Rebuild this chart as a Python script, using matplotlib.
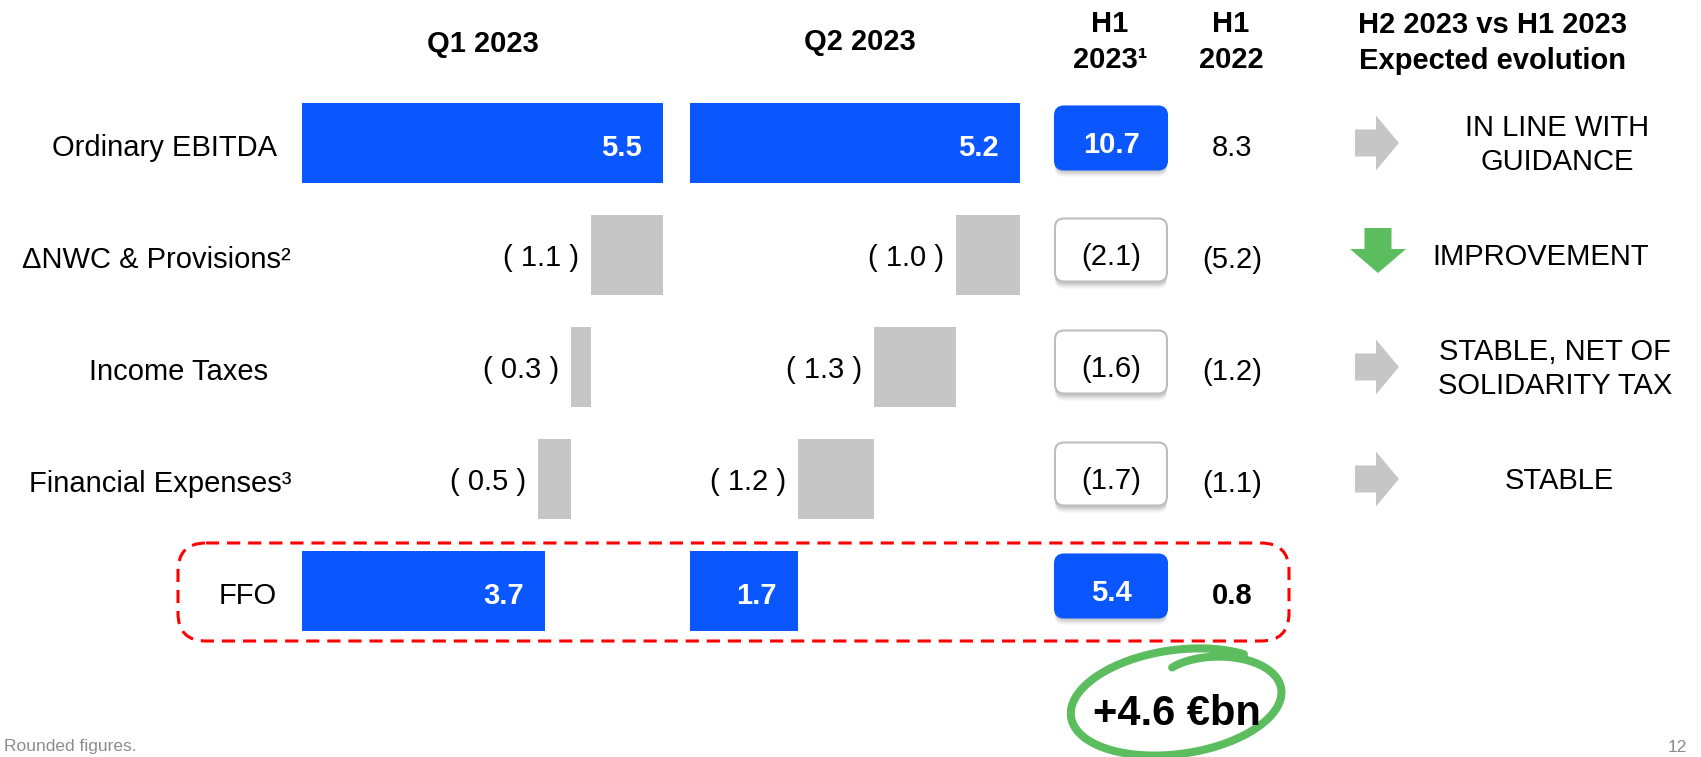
import matplotlib
matplotlib.use("Agg")
import matplotlib.pyplot as plt
from matplotlib.patches import FancyBboxPatch
import numpy as np

plt.rcParams['font.family'] = ['Liberation Sans', 'DejaVu Sans']

# data (€bn)
rows = ["Ordinary EBITDA", "\u0394NWC & Provisions\u00b2", "Income Taxes",
        "Financial Expenses\u00b3", "FFO"]
q1_values = [5.5, -1.1, -0.3, -0.5, 3.7]
q2_values = [5.2, -1.0, -1.3, -1.2, 1.7]
h1_2023 = [10.7, -2.1, -1.6, -1.7, 5.4]
h1_2022 = [8.3, -5.2, -1.2, -1.1, 0.8]
evolution = ["IN LINE WITH\nGUIDANCE", "IMPROVEMENT",
             "STABLE, NET OF\nSOLIDARITY TAX", "STABLE"]
evolution_arrow = ["right", "down", "right", "right"]
ffo_delta = 4.6

BLUE = "#0A57FF"
GREY = "#C6C6C6"
GREEN = "#5BBD5E"
W, H = 1701, 757
FS = 21

fig = plt.figure(figsize=(W / 100, H / 100), dpi=100)


def fmt(v, spaced=False):
    if v < 0:
        return f"( {abs(v):.1f} )" if spaced else f"({abs(v):.1f})"
    return f"{v:.1f}"


def panel(x0, x1, values):
    # one waterfall per quarter, rows 0..4 top to bottom
    top, bottom = 87, 647
    ax = fig.add_axes([x0 / W, (H - bottom) / H, (x1 - x0) / W, (bottom - top) / H])
    ax.set_xlim(0, values[0])
    ax.set_ylim(4.5, -0.5)
    ax.axis('off')
    run = values[0]
    last = len(values) - 1
    for i, v in enumerate(values):
        if i == 0 or i == last:
            ax.barh(i, v, left=0, height=0.72, color=BLUE)
            ax.annotate(fmt(v), (v, i), xytext=(-21, -5), textcoords='offset pixels',
                        ha='right', va='center', color='white', fontweight='bold', fontsize=FS)
        else:
            run += v
            ax.barh(i, -v, left=run, height=0.72, color=GREY)
            ax.annotate(fmt(v, True), (run, i), xytext=(-12, -3), textcoords='offset pixels',
                        ha='right', va='center', fontsize=FS)
    return ax


panel(301.6, 662.8, q1_values)
panel(690.0, 1019.7, q2_values)

# overlay in pixel units for table/text layout
ax = fig.add_axes([0, 0, 1, 1])
ax.set_xlim(0, W)
ax.set_ylim(H, 0)
ax.axis('off')

row_y = 143 + 112 * np.arange(len(rows))
label_right = [277, 291, 268, 291, 277]
for y, xr, lab in zip(row_y, label_right, rows):
    ax.text(xr, y + 5, lab, ha='right', va='center', fontsize=FS)

# headers
ax.text(483, 44, "Q1 2023", ha='center', va='center', fontsize=FS, fontweight='bold')
ax.text(860, 42, "Q2 2023", ha='center', va='center', fontsize=FS, fontweight='bold')
ax.text(1110, 42, "H1\n2023\u00b9", ha='center', va='center', fontsize=FS,
        fontweight='bold', linespacing=1.38)
ax.text(1231, 42, "H1\n2022", ha='center', va='center', fontsize=FS,
        fontweight='bold', linespacing=1.38)
ax.text(1492, 43, "H2 2023 vs H1 2023\nExpected evolution", ha='center', va='center',
        fontsize=FS, fontweight='bold', linespacing=1.4)

# H1 2023 boxes and H1 2022 values
bw, bh = 112, 63
last = len(rows) - 1
for i, (y, v23, v22) in enumerate(zip(row_y, h1_2023, h1_2022)):
    yc = y - 5
    total = i == 0 or i == last
    for k, a in [(7, 0.10), (5, 0.15), (3, 0.2)]:
        ax.add_patch(FancyBboxPatch((1111 - bw / 2, yc - bh / 2 + k), bw, bh,
                                    boxstyle='round,pad=0,rounding_size=9',
                                    fc='#7a7a7a', ec='none', alpha=a))
    ax.add_patch(FancyBboxPatch((1111 - bw / 2, yc - bh / 2), bw, bh,
                                boxstyle='round,pad=0,rounding_size=9',
                                fc=BLUE if total else 'white',
                                ec=BLUE if total else '#BDBDBD', lw=1.5))
    ax.text(1111, yc + 7, fmt(v23), ha='center', va='center', fontsize=FS,
            color='white' if total else 'black', fontweight='bold' if total else 'normal')
    ax.text(1232, y + 5, fmt(v22), ha='center', va='center', fontsize=FS,
            fontweight='bold' if i == last else 'normal')

# expected evolution column
evo_x = [1557, 1541, 1555, 1559]
for y, txt, kind, ex in zip(row_y, evolution, evolution_arrow, evo_x):
    if kind == "right":
        ax.arrow(1355, y, 44, 0, width=27, head_width=55, head_length=23,
                 length_includes_head=True, color=GREY, lw=0)
    else:
        ax.arrow(1378, y - 27, 0, 45, width=27, head_width=56, head_length=24,
                 length_includes_head=True, color=GREEN, lw=0)
    ax.text(ex, y + 2, txt, ha='center', va='center', fontsize=FS, linespacing=1.3)

# FFO highlight
ax.add_patch(FancyBboxPatch((178, 543), 1289 - 178, 98,
                            boxstyle='round,pad=0,rounding_size=28',
                            fill=False, ec='#FF0000', lw=2.2, ls=(0, (4.3, 2.6))))

# hand-drawn circle around the delta
cx, cy, a, b, phi = 1177, 702, 107, 52, np.radians(8)
t = np.linspace(0, 2 * np.pi + 0.75, 300)
s = 1 - 0.33 * np.exp(-t / 0.55)
dx = a * s * np.sin(t)
dy = -b * s * np.cos(t)
ax.plot(cx + dx * np.cos(phi) + dy * np.sin(phi),
        cy - dx * np.sin(phi) + dy * np.cos(phi),
        color=GREEN, lw=5.8, solid_capstyle='round')
ax.text(cx, 714, f"+{ffo_delta:.1f} \u20acbn", ha='center', va='center',
        fontsize=30, fontweight='bold')

ax.text(4, 747, "Rounded figures.", ha='left', va='center', fontsize=12.5, color='#8C8C8C')
ax.text(1687, 747, "12", ha='right', va='center', fontsize=12.5, color='#8C8C8C')

fig.savefig("out.png", dpi=100)
